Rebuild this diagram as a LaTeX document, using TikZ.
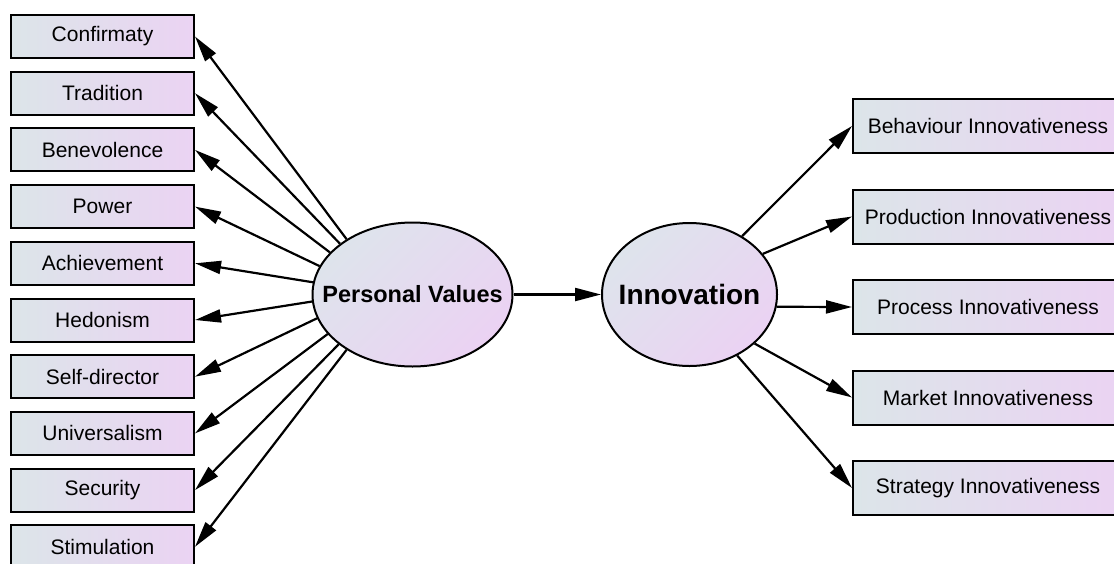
\documentclass[tikz,border=0pt]{standalone}
\usepackage{fontspec}
\setmainfont{Liberation Sans}
\usepackage{tikz}
\usetikzlibrary{shapes}
\usetikzlibrary{arrows.meta}

\definecolor{boxleft}{HTML}{DCE5E9}
\definecolor{boxright}{HTML}{EBD3F3}
\definecolor{ovalleft}{HTML}{DEE4EC}
\definecolor{ovalright}{HTML}{EBD2F3}

\begin{document}
\begin{tikzpicture}[x=1pt,y=-1pt,
        itembox/.style={draw, line width=2pt, left color=boxleft, right color=boxright,
            minimum width=183pt, minimum height=43pt, inner sep=0pt,
            font=\fontsize{21}{25}\selectfont},
        indbox/.style={itembox, minimum width=270pt, minimum height=54pt},
        latent/.style={draw, ellipse, line width=2pt, top color=ovalleft, bottom color=ovalright,
            shading angle=45, inner sep=0pt},
        path/.style={line width=2.2pt, -{Triangle[length=26pt,width=13pt]}}]
        \useasboundingbox (0,0) rectangle (1114,563);
        \clip (0,0) rectangle (1114,563);

        % the two latent variables (text as centred label so it does not widen the oval)
        \node[latent, minimum width=200pt, minimum height=144pt,
            label={[font=\bfseries\fontsize{23.5}{28}\selectfont]center:Personal Values}] (pv) at (412.5,294.5) {};
        \node[latent, minimum width=175pt, minimum height=143pt,
            label={[font=\bfseries\fontsize{28}{33}\selectfont]center:Innovation}] (inno) at (689.5,294.5) {};

        % value items
        \node[itembox] (conf) at (102.5,36.5) {Confirmaty};
        \node[itembox] (trad) at (102.5,93.2) {Tradition};
        \node[itembox] (bene) at (102.5,149.9) {Benevolence};
        \node[itembox] (powr) at (102.5,206.6) {Power};
        \node[itembox] (achv) at (102.5,263.3) {Achievement};
        \node[itembox] (hedo) at (102.5,320) {Hedonism};
        \node[itembox] (self) at (102.5,376.7) {Self-director};
        \node[itembox] (univ) at (102.5,433.4) {Universalism};
        \node[itembox] (secu) at (102.5,490.1) {Security};
        \node[itembox] (stim) at (102.5,546.8) {Stimulation};

        % innovation items
        \node[indbox] (behv) at (988,126) {Behaviour Innovativeness};
        \node[indbox] (prod) at (988,216.5) {Production Innovativeness};
        \node[indbox] (proc) at (988,307) {Process Innovativeness};
        \node[indbox] (mrkt) at (988,397.5) {Market Innovativeness};
        \node[indbox] (strg) at (988,488) {Strategy Innovativeness};

        \draw[path] (pv.140) -- (conf.east);
        \draw[path] (pv.145.7) -- (trad.east);
        \draw[path] (pv.153.6) -- (bene.east);
        \draw[path] (pv.163.4) -- (powr.east);
        \draw[path] (pv.173.5) -- (achv.east);
        \draw[path] (pv.184.8) -- (hedo.east);
        \draw[path] (pv.194.7) -- (self.east);
        \draw[path] (pv.205.4) -- (univ.east);
        \draw[path] (pv.214.6) -- (secu.east);
        \draw[path] (pv.220.1) -- (stim.east);

        \draw[path] (pv) -- (inno);

        \draw[path] (inno.48.6) -- (behv.west);
        \draw[path] (inno.29.4) -- (prod.west);
        \draw[path] (inno.-8) -- (proc.west);
        \draw[path] (inno.-37) -- (mrkt.west);
        \draw[path] (inno.-52.8) -- (strg.west);
    \end{tikzpicture}
\end{document}
